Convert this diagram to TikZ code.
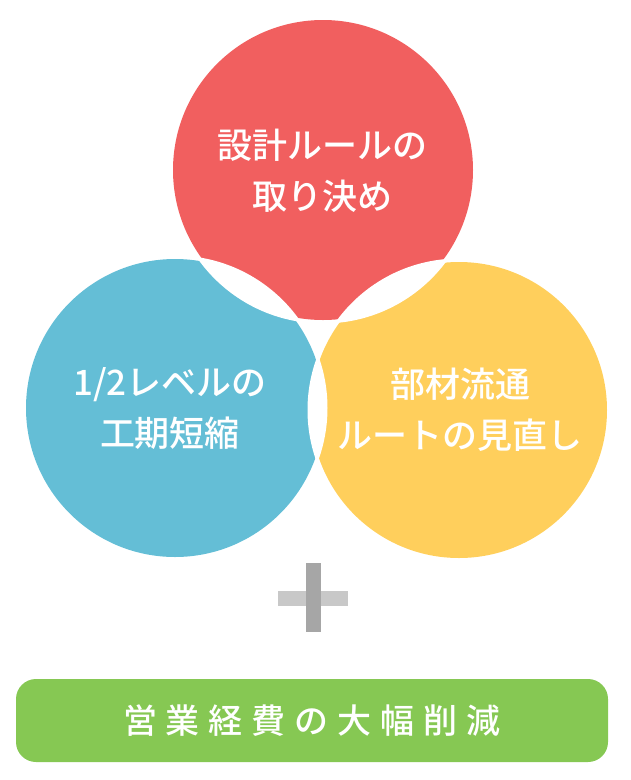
\documentclass[tikz,border=0pt]{standalone}
\usepackage{fontspec}
\newfontfamily\jpfont{Noto Sans CJK JP Medium}
\definecolor{redc}{HTML}{F15F5F}
\definecolor{bluec}{HTML}{64BED6}
\definecolor{yelc}{HTML}{FFCF5C}
\definecolor{greenc}{HTML}{86C853}
\definecolor{plush}{HTML}{C8C8C8}
\definecolor{plusv}{HTML}{A6A6A6}
\newcommand{\gsp}{\kern9pt}
\begin{document}
\begin{tikzpicture}[x=1pt,y=-1pt,
  lbl/.style={text=white, align=center, inner sep=0pt,
    font=\jpfont\fontsize{35}{51}\selectfont},
  goalbox/.style={fill=greenc, rounded corners=20pt, text=white,
    minimum width=592pt, minimum height=83pt, inner sep=0pt,
    font=\jpfont\fontsize{34}{40}\selectfont}]
\useasboundingbox (0,0) rectangle (630,780);
\coordinate (cr) at (323,170);
\coordinate (cb) at (175,408);
\coordinate (cy) at (459,410);
% circles
\fill[redc] (cr) circle (150pt);
\fill[bluec] (cb) circle (149pt);
\fill[yelc] (cy) circle (148pt);
% white lenses between circles
\begin{scope}
  \clip (cr) circle (153.5pt);
  \fill[white] (cb) circle (152.5pt);
\end{scope}
\begin{scope}
  \clip (cr) circle (153.5pt);
  \fill[white] (cy) circle (151.5pt);
\end{scope}
\begin{scope}
  \clip (cb) circle (152.5pt);
  \fill[white] (cy) circle (151.5pt);
\end{scope}
% labels
\node[lbl] (tr) at (322,171) {設計ルールの\\取り決め};
\node[lbl] (tb) at (170,409) {1/2レベルの\\工期短縮};
\node[lbl] (ty) at (460,410) {部材流通\\ルートの見直し};
% plus sign
\fill[plush] (278,591) rectangle (348,606);
\fill[plusv] (306,563) rectangle (321,632);
% goal box
\node[goalbox] (goal) at (312,720.5) {営\gsp 業\gsp 経\gsp 費\gsp の\gsp 大\gsp 幅\gsp 削\gsp 減};
\end{tikzpicture}
\end{document}
